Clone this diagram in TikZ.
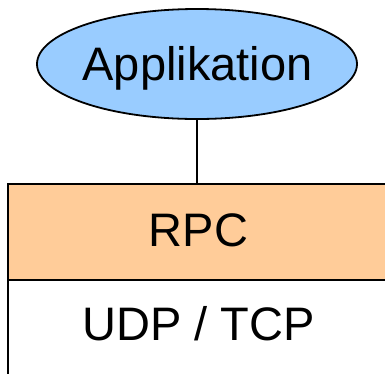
\documentclass[tikz,border=0pt]{standalone}
\usepackage{fontspec}
\setmainfont{Liberation Sans}
\usetikzlibrary{shapes.geometric}
\definecolor{appblue}{HTML}{99CCFF}
\definecolor{rpcorange}{HTML}{FFCC99}
\begin{document}
\begin{tikzpicture}[x=1pt,y=-1pt,
  lbl/.style={font=\fontsize{47}{50}\selectfont, inner sep=0pt},
  layer/.style={draw=black, line width=2pt, minimum width=381pt, minimum height=96pt, inner sep=0pt, anchor=north west}]
\useasboundingbox (0,0) rectangle (385,373);
\clip (0,0) rectangle (385,373);
\node[draw=black, line width=1.8pt, fill=appblue, ellipse, minimum width=320pt, minimum height=110pt, inner sep=0pt] (app) at (197,64) {};
\node[lbl] at (197.5,68) {Applikation};
\node[layer, fill=rpcorange] (rpc) at (7,183) {};
\node[layer, fill=white] (udp) at (7,279) {};
\node[lbl] at ([yshift=2]rpc.center) {RPC};
\node[lbl] at ([yshift=4]udp.center) {UDP / TCP};
\draw[line width=1.5pt] (app.south) -- (rpc.north -| app.south);
\end{tikzpicture}
\end{document}
